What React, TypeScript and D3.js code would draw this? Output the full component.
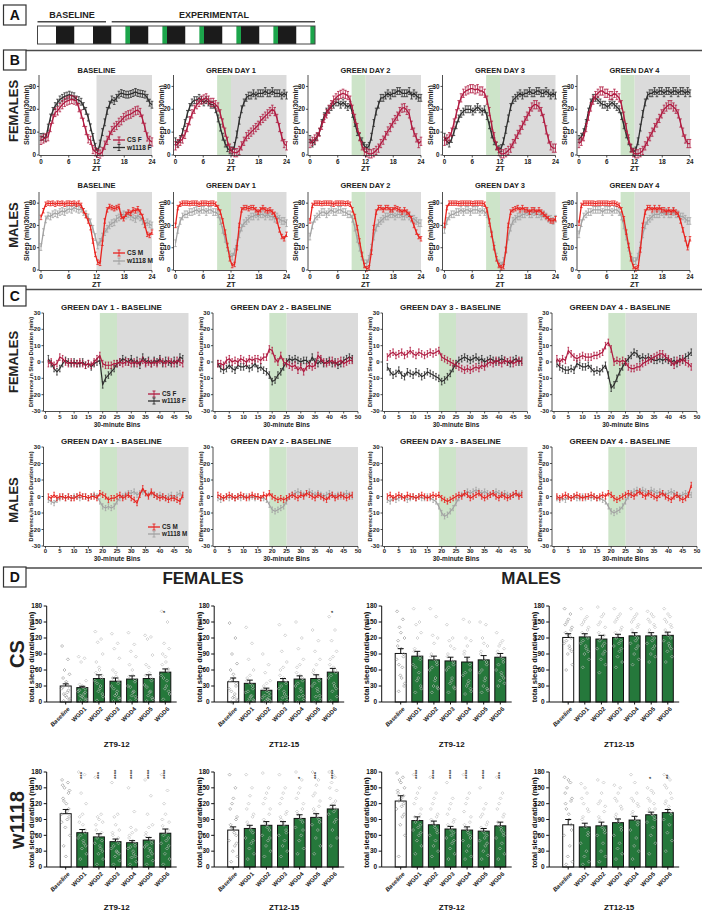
import React from "react";
import * as d3 from "d3";

const FONT = "'Liberation Sans', Arial, Helvetica, sans-serif";
const C_CSF = "#b01a40";
const C_WF = "#2e2e2e";
const C_CSM = "#e8231f";
const C_WM = "#a3a3a3";
const C_GRAY = "#dbdbdb";
const C_GREENBAND = "#cde4c9";
const C_BAR = "#25783b";
const C_STRIPGREEN = "#1ca54b";
const C_LINE = "#4a4a4a";

// ---------------- Panel A: light schedule ----------------
const STRIP_PHASE = ["L","D","L","D","L","G","D","L","G","D","L","G","D","L","G","D","L","G","D","L","G"];
const STRIP_HOURS = [12,12,12,12,9,3,12,9,3,12,9,3,12,9,3,12,9,3,12,9,3];

// ---------------- Panel B: sleep profiles (min/30min), 48 half-hour bins ----------------
const B_TITLES = ["BASELINE", "GREEN DAY 1", "GREEN DAY 2", "GREEN DAY 3", "GREEN DAY 4"];
const ZT_TICKS = [0, 6, 12, 18, 24];
const SLEEP_TICKS = [0, 10, 20, 30];

const CSF_BASE = [6.4,7,7.5,8,12,15.7,18.6,19.3,20.7,22,23,23.6,24,24.3,24,23.6,20.7,17.9,14.3,10.7,7.1,6.4,2.4,1.4,0.7,0.4,1.4,4.3,6.4,8.6,10.7,12.1,12.9,14.3,15,16.4,17.1,17.6,17.9,18.6,19.3,19.6,18.6,15.7,12.1,7.9,6.4,5.7];
const CSF_GD1 = [4,5,6,7,9,12,15,18,20,22,23,24,24.5,25,24,23,23,22,21,18,14,10,6,3,1.5,1,1,2,4,6,8,9,10,11,12,13,15,16,17,18,19,20,19,16,12,8,5,4];
const CSF_GD2 = [5,6,7,8,10,13,16,18,20,22,24,25,26,26.5,27,26.5,26,24,20,16,12,8,4,1.5,1,0.5,0.5,1,2,3,5,6.5,8.5,10.5,12,14,15.5,17,19,20.5,20.7,19.5,18,13,10,7.5,5,6];
const CSF_GD3 = [6,7,8,10,14,18,22,25,27,28,28.5,29,29,28.5,29,28,28,27,24,19,13,8,4,1.5,0.5,0.5,1,2,3,5,7,9,11,13,15,17,19,21,22,22,21,19,16,11,7,4,3,3];
const CSF_GD4 = [5,6,8,12,17,21,24,26,27,28,28,27,27,26,26,27,26,25,22,17,12,7,3,1,0.5,0.5,1,2,4,6,8,10,12,14,16,18,20,21,22,22,21,20,18,14,10,7,5,5];

const WF_BASE = [7.9,8,7.5,12,16.4,19.3,21.4,22.9,24.3,25,25.7,26,26.4,26,25.7,24.3,24,23.3,21.4,19.3,16.4,12.1,7.9,3.6,1.4,5,10,14.3,19.3,22,24.3,23.6,25,26.4,27.1,26.7,26.4,26.4,26.7,27.1,27.6,27.1,26.9,26.7,26.4,25,22.9,22];
const WF_GD1 = [6,5,7,10,14,18,21,23,24,24,25,24,23,24,23,22,22,20,16,12,8,5,3,2,2,4,9,15,20,23,25,26,26,27,26,27,27,27,28,27,27,28,27,27,27,26,27,26];
const WF_GD2 = [7,5,6,8,10,14,17,19,20,21,22,23,23,22,23,22,21,22,18,14,10,8,6,4,3,4,8,14,19,22,25,25,26,27,26,27,27,28,28,27,27,27,28,26,27,26,25,25];
const WF_GD3 = [8,6,5,7,10,13,16,18,19,20,20,20,19,20,21,20,19,20,17,13,9,6,4,2.5,3,6,11,16,21,24,25,26,27,26,27,27,28,27,27,28,28,27,27,28,27,26,27,26];
const WF_GD4 = [7,8,10,14,19,23,25,25,24,23,22,22,21,22,23,22,21,20,17,13,9,6,3,1.5,2,6,12,18,23,26,27,27,28,27,28,28,27,28,28,27,28,28,27,28,28,27,28,27];

const CSM_BASE = [23.6,26.6,29.5,30,29.8,30,29.5,30,29.8,30,29.5,30,30,29.8,30,29.5,30,29,26.6,24.4,22,19,13,7,3.5,3,12,22,27,28.5,28,27.5,28,28.5,24,23,25,26,25.5,27,26.5,27.5,26,24,20,16,15.5,17];
const CSM_GD1 = [20,28,29.5,30,30,30,29.8,30,30,30,29.5,30,30,30,29.8,30,30,29.5,28,26,22,17,11,5,2,2.5,10,20,27,28,28,27.5,28,28,27,26,27,28,27,26.5,27,26,25,22,18,15,14,16];
const CSM_GD2 = [22,29,30,30,30,29.8,30,30,30,30,29.5,30,30,30,30,29.8,30,29.5,27,24,19,13,7,2,0.5,1,8,19,26,28,28,27,28,28,27,27,28,27.5,27,26,27,26,25,23,20,17,15,14];
const CSM_GD3 = [20,28,30,30,30,30,29.8,30,30,30,30,30,29.8,30,30,30,30,29.5,27,22,16,10,5,2,1,1.5,9,20,26,27,27.5,28,27,28,27,27,26,27,27,26,27,26,25,24,23,22,22,23];
const CSM_GD4 = [21,29,30,30,30,30,30,29.8,30,30,30,30,30,29.8,30,30,29.5,29,27,23,17,11,5,1.5,0.5,1,9,20,26,28,28,27,28,27,28,27,27,26,27,26,27,26,25,22,18,14,10,14];

const WM_BASE = [10.3,17,22.7,24.4,24,25,25.5,25,26,26.5,26,27,27.5,27,28,27.5,27,27.5,26,25,23.6,21.4,18.5,14.8,11,12.6,15,17,18.5,20,21,21.4,23,23.6,24.4,25,24.4,25,24,23.6,22.9,24.4,23.6,22,20.7,21.4,20.5,20];
const WM_GD1 = [12,18,22,24,25,25,26,26,26.5,27,26,27,27,26,27,27,26,26,25,22,18,14,10,7,6,8,12,16,19,21,22,23,24,24,25,24,25,25,24,25,24,24,23,24,23,22,22,21];
const WM_GD2 = [15,20,23,24,25,26,26,25,26,27,26,26,27,27,26,26,25,25,23,19,14,10,6,3,3,5,10,15,19,21,22,23,24,24,25,25,24,25,25,24,24,25,24,23,23,22,21,21];
const WM_GD3 = [18,22,24,25,25,26,26,27,26,27,27,26,27,27,27,26,27,26,25,21,16,11,6,3,2,4,9,15,19,22,23,24,24,25,25,26,25,25,26,25,25,24,25,24,23,23,22,23];
const WM_GD4 = [16,21,24,25,26,26,27,27,27,27,26,27,27,27,26,27,27,26,24,20,15,10,6,4,4,6,11,16,20,22,23,24,25,25,25,26,25,26,25,25,26,25,25,24,24,23,22,22];

const SEM_B = [1.8, 1.5, 1.0, 1.5]; // CS F, w1118 F, CS M, w1118 M

// ---------------- Panel C: difference from baseline (min), bins 1-48 ----------------
const C_TITLES = ["GREEN DAY 1 - BASELINE", "GREEN DAY 2 - BASELINE", "GREEN DAY 3 - BASELINE", "GREEN DAY 4 - BASELINE"];
const BIN_TICKS = [0, 5, 10, 15, 20, 25, 30, 35, 40, 45, 50];
const DIFF_TICKS = [-30, -20, -10, 0, 10, 20, 30];

const DF_CS_GD1 = [-1,0,-2,-1,3,2,0,-1,0,-1,-1,0,-1,-2,-1,-2,0,2,4,-1,-2,-2,-2,-1,-1,0,-1,0,0,-1,0,-1,0,1,-1,0,-1,0,-1,1,0,-1,1,0,-1,1,0,-1];
const DF_CS_GD2 = [-1,-1,-2,1,2,0,1,0,2,1,0,2,1,2,2,1,3,3,8,7,2,0,4,0,-1,-2,-3,-2,-5,-3,-6,-3,-2,-3,-2,4,2,0,-1,0,1,-1,0,1,-1,0,1,1];
const DF_CS_GD3 = [3,5,6,4,5,6,4,5,7,5,4,6,5,4,5,6,5,6,7,3,2,1,0,-1,-2,-3,-4,-5,-4,-5,-4,-3,-4,-2,-3,-1,0,-1,1,0,-1,1,0,1,-1,0,1,0];
const DF_CS_GD4 = [2,0,2,1,7,5,3,2,3,4,3,3,3,4,4,5,6,10,12,8,0,1,0,1,0,-3,-4,-4,-3,-3,-1,0,1,2,3,4,5,5,3,2,0,-2,1,0,2,0,-1,-3];
const DF_W_GD1 = [2,-1,-4,-6,-4,-1,1,0,-1,0,-1,-1,0,-2,-1,-3,-1,0,1,-14,-10,-8,-6,-4,-1,0,2,1,0,2,-1,1,-2,3,0,1,-1,1,0,2,-1,1,0,-1,1,-1,3,2];
const DF_W_GD2 = [-1,-4,-5,-4,-2,-4,-5,-2,-3,-3,-2,-4,-3,-1,-4,-3,-5,-6,-8,-12,-11,-8,-6,-3,0,2,1,2,1,0,1,1,-1,3,0,-1,1,-1,0,1,-1,0,-2,-1,1,2,3,2];
const DF_W_GD3 = [-3,-6,-8,-7,-5,-8,-9,-6,-7,-8,-6,-7,-9,-8,-6,-7,-8,-9,-10,-12,-11,-9,-7,-4,-1,1,2,3,2,1,2,3,1,2,0,1,2,1,0,1,2,1,0,-1,1,2,0,1];
const DF_W_GD4 = [-1,-3,-4,-5,-5,-4,-5,-1,-2,-3,-3,-2,-4,-6,-5,-6,-4,-2,-8,-16,-14,-10,-6,-3,0,2,4,6,5,2,3,2,3,2,1,1,2,1,2,1,0,1,-1,2,1,3,4,6];

const DM_CS_GD1 = [0,-1,1,-1,0,0,-1,0,-1,-1,0,1,0,0,-1,0,0,-1,2,1,0,-2,-1,-1,0,1,-1,0,1,-1,-2,-4,1,5,2,0,3,1,0,-1,0,-1,-2,-1,-1,-2,-3,1];
const DM_CS_GD2 = [1,0,-1,0,1,0,-1,0,1,0,-1,0,1,0,0,-1,1,0,2,0,-1,-2,-1,-2,-1,0,1,0,-1,1,0,2,1,0,-1,1,0,-1,-2,0,1,-1,0,1,0,-1,0,1];
const DM_CS_GD3 = [0,1,-1,0,1,0,-1,1,0,0,-1,0,1,0,-1,0,1,0,1,-1,-2,-3,-2,-1,0,1,0,2,1,-1,0,1,2,0,-1,0,1,2,0,-1,1,0,-1,0,1,2,0,1];
const DM_CS_GD4 = [0,-1,0,1,0,-1,0,1,0,-1,0,0,1,0,-1,0,1,0,2,1,-1,-2,-1,0,1,2,1,0,2,3,1,0,2,1,0,-1,1,2,0,-1,-2,0,1,-1,-2,-1,1,7];
const DM_W_GD1 = [-2,-3,-4,-2,-1,0,-1,0,-1,0,0,-1,0,0,-1,0,1,0,-3,-6,-7,-6,-7,-6,-3,-1,0,1,2,2,3,1,2,3,2,1,2,1,0,1,0,-1,0,1,-1,1,2,0];
const DM_W_GD2 = [-1,-2,-1,0,-1,0,-1,0,-1,0,0,-1,0,-1,0,-1,-1,-2,-5,-8,-9,-8,-7,-6,-3,0,1,2,3,2,1,2,3,2,1,2,1,0,1,2,1,0,1,0,1,2,1,0];
const DM_W_GD3 = [-2,-3,-1,-2,-1,0,-1,-2,-1,0,-1,0,-1,-1,0,-1,-2,-3,-6,-10,-12,-11,-9,-7,-4,-1,1,2,3,2,3,4,3,2,3,2,1,2,3,2,1,2,1,0,1,2,1,2];
const DM_W_GD4 = [-1,-2,-1,-2,0,-1,0,-1,-1,0,-1,0,-1,0,-1,-1,-2,-3,-6,-9,-10,-9,-8,-6,-3,0,2,3,4,3,4,3,2,4,3,2,3,2,1,2,3,2,1,0,1,2,1,1];

const SEM_C = [2.0, 2.0, 1.6, 1.6];

// ---------------- Panel D: total sleep duration (min) ----------------
const D_CATS = ["Baseline", "WGD1", "WGD2", "WGD3", "WGD4", "WGD5", "WGD6"];
const D_TICKS = [0, 30, 60, 90, 120, 150, 180];
const D_TITLES = ["ZT9-12", "ZT12-15", "ZT9-12", "ZT12-15"];

const CSF_ZT9_MEAN = [30, 27, 44, 39, 43, 44, 56];
const CSF_ZT9_SEM = [4, 2.5, 7, 6, 6, 7, 6];
const CSF_ZT9_PTS = [
  [105,80,60,52,45,38,30,25,18,12,6,2,35,28,22,15,9,4],
  [85,82,75,40,33,28,25,20,15,10,5,2,30,22,18,12,8,3],
  [132,118,112,90,75,60,50,40,30,20,10,3,65,55,45,35,25,15],
  [128,110,100,82,60,48,40,30,20,12,5,2,55,45,35,25,15,8],
  [130,108,95,85,70,50,42,30,20,12,5,2,60,48,38,28,18,10],
  [125,122,118,88,70,55,45,32,20,12,5,2,65,50,40,28,18,8],
  [170,150,110,100,90,75,62,50,40,25,15,5,85,70,58,45,30,20],
];
const CSF_ZT12_MEAN = [38, 35, 22, 38, 43, 44, 56];
const CSF_ZT12_SEM = [7, 6, 4, 6, 6, 7, 7];
const CSF_ZT12_PTS = [
  [148,120,90,72,60,45,35,25,15,8,3,0,52,40,30,20,10,5],
  [140,110,80,60,45,35,25,18,12,6,2,0,50,40,30,20,10,4],
  [90,70,55,40,30,20,12,8,5,2,0,0,35,25,18,12,6,3],
  [145,125,95,75,60,45,35,25,15,8,3,0,65,50,40,30,20,10],
  [150,120,100,80,65,50,40,30,20,10,5,0,70,55,45,35,25,12],
  [135,115,95,80,60,50,40,30,20,10,5,0,70,55,45,35,25,12],
  [160,135,115,95,80,65,55,45,30,20,10,2,85,70,60,50,35,25],
];
const CSM_ZT9_MEAN = [91, 86, 79, 77, 75, 79, 84];
const CSM_ZT9_SEM = [9, 9, 7, 7, 9, 8, 7];
const CSM_ZT9_PTS = [
  [170,155,140,120,115,100,90,80,65,50,35,20,130,105,85,70,45,30],
  [175,150,145,130,100,90,80,70,55,40,25,18,120,95,85,65,45,30],
  [175,160,125,120,90,80,70,60,45,30,25,18,110,85,75,65,40,28],
  [145,120,115,100,90,80,70,60,45,35,25,18,105,85,75,65,40,28],
  [155,150,120,115,95,80,60,50,40,30,20,15,105,90,70,55,35,25],
  [150,145,120,105,95,80,70,55,45,30,22,18,110,90,75,60,40,25],
  [130,115,105,100,95,85,75,60,50,40,35,30,110,90,80,70,55,45],
];
const CSM_ZT12_MEAN = [121, 122, 118, 121, 124, 124, 125];
const CSM_ZT12_SEM = [7, 6, 7, 6, 6, 6, 6];
const CSM_ZT12_PTS = [
  [175,165,150,140,130,125,120,110,100,90,70,60,155,145,135,115,105,95],
  [175,160,150,140,130,125,120,110,100,90,80,65,155,145,135,115,105,95],
  [178,165,150,140,130,120,110,100,90,80,70,55,160,145,125,115,105,95],
  [175,165,155,140,130,125,115,105,95,85,75,65,160,150,135,120,110,100],
  [175,165,155,145,135,125,120,110,100,90,80,70,160,150,140,130,115,105],
  [170,160,150,140,130,125,120,110,100,90,85,75,165,155,145,135,115,105],
  [175,160,150,140,135,125,120,115,105,95,85,75,165,155,145,130,110,100],
];
const WF_ZT9_MEAN = [101, 65, 57, 48, 46, 51, 64];
const WF_ZT9_SEM = [8, 6, 6, 5, 4, 5, 8];
const WF_ZT9_PTS = [
  [165,160,150,145,130,120,110,100,90,75,60,40,20,155,140,125,105,95,85],
  [180,175,140,120,95,80,65,55,45,35,25,15,100,85,70,60,50,40],
  [170,100,95,85,70,60,50,45,35,25,15,5,90,80,65,55,40,30],
  [160,100,95,70,60,50,45,35,28,20,12,5,80,65,55,40,30,25],
  [150,105,75,70,60,50,40,35,25,18,10,5,65,55,45,38,30,20],
  [165,135,100,80,65,55,45,38,30,20,12,5,75,60,50,42,35,25],
  [175,145,120,85,78,65,55,45,35,25,15,5,100,90,70,60,50,40],
];
const WF_ZT12_MEAN = [70, 73, 79, 79, 92, 94, 110];
const WF_ZT12_SEM = [6, 6, 7, 7, 7, 7, 7];
const WF_ZT12_PTS = [
  [175,150,120,95,80,70,60,50,40,30,20,10,130,110,90,75,65,45],
  [175,150,120,100,85,75,65,55,45,35,25,15,135,110,95,80,70,50],
  [178,150,130,110,90,80,70,60,50,40,30,20,140,120,100,85,75,55],
  [175,150,130,105,95,85,70,60,50,40,30,20,140,120,100,90,80,65],
  [180,165,140,120,105,95,85,75,60,50,35,25,150,130,110,100,90,70],
  [180,165,140,125,110,100,90,80,70,55,40,25,155,135,115,105,95,85],
  [180,170,160,145,130,120,110,100,85,70,55,40,175,150,125,115,105,90],
];
const WM_ZT9_MEAN = [125, 88, 80, 72, 70, 68, 78];
const WM_ZT9_SEM = [10, 7, 7, 5, 6, 5, 7];
const WM_ZT9_PTS = [
  [178,170,165,150,140,130,120,110,95,80,60,20,160,145,135,125,115,100],
  [175,150,130,110,95,90,80,70,60,50,40,25,140,120,100,85,75,65],
  [170,140,120,100,90,80,70,60,50,40,30,20,130,110,95,85,75,65],
  [160,130,110,90,80,70,65,55,45,35,25,15,120,100,85,75,60,50],
  [175,140,120,95,80,70,60,50,40,30,20,15,130,105,85,75,65,55],
  [150,120,100,85,75,65,60,50,40,30,22,15,110,95,80,70,55,45],
  [170,140,120,100,85,75,65,55,45,35,25,15,130,110,95,80,70,60],
];
const WM_ZT12_MEAN = [80, 76, 78, 84, 89, 99, 103];
const WM_ZT12_SEM = [10, 7, 7, 7, 7, 5, 6];
const WM_ZT12_PTS = [
  [170,160,150,130,120,100,80,60,40,20,10,5,165,140,125,110,90,70],
  [158,140,120,105,90,75,60,45,30,20,10,5,150,130,110,95,80,65],
  [165,160,125,115,95,80,70,60,45,30,20,10,140,120,105,90,75,65],
  [155,150,125,110,95,85,75,60,45,35,25,15,140,130,115,100,90,70],
  [175,140,125,115,100,90,80,70,55,40,30,15,160,130,120,105,95,85],
  [150,140,125,110,105,100,95,85,75,60,45,25,145,130,120,110,100,90],
  [175,165,150,130,120,110,100,90,80,65,50,30,170,155,140,125,115,105],
];

const CSF_ZT9_STARS = ["", "", "", "", "", "", "*"];
const CSF_ZT12_STARS = ["", "", "", "", "", "", "*"];
const CSM_ZT9_STARS = ["", "", "", "", "", "", ""];
const CSM_ZT12_STARS = ["", "", "", "", "", "", ""];
const WF_ZT9_STARS = ["", "***", "***", "****", "****", "****", "****"];
const WF_ZT12_STARS = ["", "", "", "", "*", "***", "****"];
const WM_ZT9_STARS = ["", "****", "****", "****", "****", "****", "***"];
const WM_ZT12_STARS = ["", "", "", "", "", "*", "**"];

// ---------------- layout ----------------
const B_X0 = [41, 175.5, 310, 444.5, 579];
const B_W = 111;
const C_X0 = [45.5, 215, 384.5, 554];
const C_W = 143;
const D_X0 = [46.7, 214.2, 381.7, 549.2];
const JITTER = [-3.6, 2.2, -1.2, 3.8, -2.6, 0.6, 3.0, -4.2, 1.6, -0.4, 4.2, -2.0, 0.2, -3.0, 2.8, -1.8, 1.0, 3.4, -4.0];

type Series = { xs: number[]; values: number[]; sem: number; color: string };

function LinePlot(p: any) {
  const x = d3.scaleLinear().domain(p.xDomain).range([p.x0, p.x0 + p.w]);
  const y = d3.scaleLinear().domain(p.yDomain).range([p.bottom, p.top]);
  const line = d3.line<[number, number]>().x((d) => x(d[0])).y((d) => y(d[1]));
  const ax = p.x0 - 2;
  return (
    <g>
      <rect x={x(p.gray[0])} y={p.top} width={x(p.gray[1]) - x(p.gray[0])} height={p.bottom - p.top} fill={C_GRAY} />
      {p.green && (
        <rect x={x(p.green[0])} y={p.top} width={x(p.green[1]) - x(p.green[0])} height={p.bottom - p.top} fill={C_GREENBAND} />
      )}
      {p.series.map((s: Series, si: number) => (
        <g key={si}>
          {s.values.map((v, i) => {
            const cx = x(s.xs[i]);
            const y1 = y(v - s.sem);
            const y2 = y(v + s.sem);
            return (
              <g key={i} stroke={s.color} strokeWidth={0.8}>
                <line x1={cx} x2={cx} y1={y1} y2={y2} />
                {p.cap > 0 && <line x1={cx - p.cap} x2={cx + p.cap} y1={y1} y2={y1} />}
                {p.cap > 0 && <line x1={cx - p.cap} x2={cx + p.cap} y1={y2} y2={y2} />}
              </g>
            );
          })}
          <path d={line(s.values.map((v, i) => [s.xs[i], v] as [number, number])) || ""} fill="none" stroke={s.color} strokeWidth={p.lw} strokeLinejoin="round" />
        </g>
      ))}
      <line x1={ax} x2={ax} y1={p.top} y2={p.bottom} stroke="#222" strokeWidth={0.8} />
      <line x1={ax} x2={p.x0 + p.w} y1={p.bottom + 0.5} y2={p.bottom + 0.5} stroke="#222" strokeWidth={0.8} />
      {p.yTicks.map((t: number) => (
        <g key={"y" + t}>
          <line x1={ax - 2} x2={ax} y1={y(t)} y2={y(t)} stroke="#222" strokeWidth={0.8} />
          <text x={ax - 3} y={y(t)} dy="0.35em" textAnchor="end" fontSize={p.tickFont} fontWeight="bold" fill="#222">{t}</text>
        </g>
      ))}
      {p.xTicks.map((t: number) => (
        <g key={"x" + t}>
          <line x1={x(t)} x2={x(t)} y1={p.bottom + 0.5} y2={p.bottom + 2.5} stroke="#222" strokeWidth={0.8} />
          <text x={x(t)} y={p.tickY} textAnchor="middle" fontSize={p.tickFont} fontWeight="bold" fill="#222">{t}</text>
        </g>
      ))}
      <text x={p.x0 + p.titleDx} y={p.titleY} textAnchor="middle" fontSize={p.titleFont} fontWeight="bold" fill="#222">{p.title}</text>
      <text x={p.x0 + p.w / 2} y={p.xLabelY} textAnchor="middle" fontSize={p.labelFont} fontWeight="bold" fill="#222">{p.xLabel}</text>
      <text transform={`translate(${p.x0 + p.yLabelDx},${(p.top + p.bottom) / 2}) rotate(-90)`} textAnchor="middle" dy="0.35em" fontSize={p.yLabelFont} fontWeight="bold" fill="#222">{p.yLabel}</text>
      {p.legend && p.legend.labels.map((lab: string, i: number) => {
        const lx = p.legend.x;
        const ly = p.legend.ys[i];
        const col = p.legend.colors[i];
        return (
          <g key={"lg" + i}>
            <line x1={lx} x2={lx + 12} y1={ly} y2={ly} stroke={col} strokeWidth={1.3} />
            <line x1={lx + 6} x2={lx + 6} y1={ly - 3} y2={ly + 3} stroke={col} strokeWidth={0.9} />
            <line x1={lx + 4.5} x2={lx + 7.5} y1={ly - 3} y2={ly - 3} stroke={col} strokeWidth={0.9} />
            <line x1={lx + 4.5} x2={lx + 7.5} y1={ly + 3} y2={ly + 3} stroke={col} strokeWidth={0.9} />
            <text x={lx + 14} y={ly} dy="0.35em" fontSize={p.legendFont} fontWeight="bold" fill="#222">{lab}</text>
          </g>
        );
      })}
    </g>
  );
}

function BarPlot(p: any) {
  const y = d3.scaleLinear().domain([0, 180]).range([p.zero, p.top]);
  const x = d3.scaleBand().domain(D_CATS).range([p.ax + 10.7, p.ax + 10.7 + 7 * 16.6]).padding(0);
  const bw = 11;
  const cxOf = (c: string) => (x(c) as number) + x.bandwidth() / 2;
  return (
    <g>
      {D_CATS.map((c, i) => (
        <rect key={"b" + i} x={cxOf(c) - bw / 2} y={y(p.means[i])} width={bw} height={p.zero - y(p.means[i])} fill={i === 0 ? "#fff" : C_BAR} stroke="#111" strokeWidth={1} />
      ))}
      {D_CATS.map((c, i) =>
        p.pts[i].map((v: number, j: number) => {
          const px = cxOf(c) + JITTER[j % JITTER.length];
          const py = y(v);
          return <path key={"p" + i + "_" + j} d={`M${px},${py - 1.5}L${px + 1.5},${py}L${px},${py + 1.5}L${px - 1.5},${py}Z`} fill="none" stroke={i === 0 ? "#8c8c8c" : "#b8b8b8"} strokeWidth={0.6} />;
        })
      )}
      {D_CATS.map((c, i) => {
        const cx = cxOf(c);
        const yt = y(p.means[i] + p.sems[i]);
        return (
          <g key={"e" + i} stroke="#111" strokeWidth={1}>
            <line x1={cx} x2={cx} y1={y(p.means[i])} y2={yt} />
            <line x1={cx - 3} x2={cx + 3} y1={yt} y2={yt} />
          </g>
        );
      })}
      {D_CATS.map((c, i) =>
        p.stars[i] ? (
          <text key={"s" + i} transform={`translate(${cxOf(c)},${p.top + 7}) rotate(-90)`} dy="0.35em" fontSize={6} fontWeight="bold" fill="#333">{p.stars[i]}</text>
        ) : null
      )}
      <line x1={p.ax} x2={p.ax} y1={p.top} y2={p.zero} stroke="#111" strokeWidth={1} />
      <line x1={p.ax} x2={p.ax + 130} y1={p.zero} y2={p.zero} stroke="#111" strokeWidth={1} />
      {D_TICKS.map((t) => (
        <g key={"t" + t}>
          <line x1={p.ax - 3} x2={p.ax} y1={y(t)} y2={y(t)} stroke="#111" strokeWidth={1} />
          <text x={p.ax - 4.5} y={y(t)} dy="0.35em" textAnchor="end" fontSize={6.5} fontWeight="bold" fill="#111">{t}</text>
        </g>
      ))}
      {D_CATS.map((c, i) => (
        <g key={"c" + i}>
          <line x1={cxOf(c)} x2={cxOf(c)} y1={p.zero} y2={p.zero + 2.5} stroke="#111" strokeWidth={1} />
          <text transform={`translate(${cxOf(c) + 3},${p.zero + 6}) rotate(-45)`} textAnchor="end" dy="0.35em" fontSize={6} fontWeight="bold" fontStyle={i === 0 ? "italic" : "normal"} fill="#111">{c}</text>
        </g>
      ))}
      <text transform={`translate(${p.ax - 15},${(p.top + p.zero) / 2 + 3}) rotate(-90)`} textAnchor="middle" dy="0.35em" fontSize={7.6} fontWeight="bold" fill="#111">total sleep duration (min)</text>
      <text x={p.ax + 70} y={p.titleY} textAnchor="middle" fontSize={8} fontWeight="bold" fill="#111">{p.title}</text>
    </g>
  );
}

function PanelBox({ y, letter }: { y: number; letter: string }) {
  return (
    <g>
      <rect x={3.5} y={y} width={22.5} height={20} fill="#fff" stroke="#333" strokeWidth={1.2} />
      <text x={14.75} y={y + 10} dy="0.36em" textAnchor="middle" fontSize={14} fontWeight="bold" fill="#111">{letter}</text>
    </g>
  );
}

function RowLabel({ x, y, text, size }: { x: number; y: number; text: string; size: number }) {
  return (
    <text transform={`translate(${x},${y}) rotate(-90)`} textAnchor="middle" dy="0.35em" fontSize={size} fontWeight="bold" fill="#222">{text}</text>
  );
}

export default function App() {
  React.useEffect(() => {
    document.body.style.margin = "0";
  }, []);

  const totalH = d3.sum(STRIP_HOURS);
  const sx = d3.scaleLinear().domain([0, totalH]).range([37.5, 315]);
  const starts = Array.from(d3.cumsum(STRIP_HOURS)).map((c, i) => c - STRIP_HOURS[i]);
  const stripColor: Record<string, string> = { L: "#fff", D: "#1b1b1b", G: C_STRIPGREEN };

  const ztXs = d3.range(48).map((i) => (i * 24) / 47);
  const binXs = d3.range(1, 49);

  const bRows = [
    { top: 75, bottom: 155, titleY: 73, tickY: 163.5, xLabelY: 171, cs: [CSF_BASE, CSF_GD1, CSF_GD2, CSF_GD3, CSF_GD4], w: [WF_BASE, WF_GD1, WF_GD2, WF_GD3, WF_GD4], cc: C_CSF, wc: C_WF, semCs: SEM_B[0], semW: SEM_B[1], leg: ["CS F", "w1118 F"], legY: [140, 147.5], label: "FEMALES", rowY: 111 },
    { top: 192, bottom: 270, titleY: 188, tickY: 278.5, xLabelY: 287, cs: [CSM_BASE, CSM_GD1, CSM_GD2, CSM_GD3, CSM_GD4], w: [WM_BASE, WM_GD1, WM_GD2, WM_GD3, WM_GD4], cc: C_CSM, wc: C_WM, semCs: SEM_B[2], semW: SEM_B[3], leg: ["CS M", "w1118 M"], legY: [253, 261], label: "MALES", rowY: 225 },
  ];
  const cRows = [
    { top: 313, bottom: 411, titleY: 309.5, tickY: 419, xLabelY: 426.5, cs: [DF_CS_GD1, DF_CS_GD2, DF_CS_GD3, DF_CS_GD4], w: [DF_W_GD1, DF_W_GD2, DF_W_GD3, DF_W_GD4], cc: C_CSF, wc: C_WF, semCs: SEM_C[0], semW: SEM_C[1], leg: ["CS F", "w1118 F"], legY: [394, 401], label: "FEMALES", rowY: 362 },
    { top: 447, bottom: 546, titleY: 443.5, tickY: 553, xLabelY: 561, cs: [DM_CS_GD1, DM_CS_GD2, DM_CS_GD3, DM_CS_GD4], w: [DM_W_GD1, DM_W_GD2, DM_W_GD3, DM_W_GD4], cc: C_CSM, wc: C_WM, semCs: SEM_C[2], semW: SEM_C[3], leg: ["CS M", "w1118 M"], legY: [527, 534], label: "MALES", rowY: 500 },
  ];
  const dRows = [
    { top: 606, zero: 702, titleY: 747, label: "CS", rowY: 654, plots: [
      { means: CSF_ZT9_MEAN, sems: CSF_ZT9_SEM, pts: CSF_ZT9_PTS, stars: CSF_ZT9_STARS },
      { means: CSF_ZT12_MEAN, sems: CSF_ZT12_SEM, pts: CSF_ZT12_PTS, stars: CSF_ZT12_STARS },
      { means: CSM_ZT9_MEAN, sems: CSM_ZT9_SEM, pts: CSM_ZT9_PTS, stars: CSM_ZT9_STARS },
      { means: CSM_ZT12_MEAN, sems: CSM_ZT12_SEM, pts: CSM_ZT12_PTS, stars: CSM_ZT12_STARS },
    ] },
    { top: 772, zero: 867, titleY: 910, label: "w1118", rowY: 820, plots: [
      { means: WF_ZT9_MEAN, sems: WF_ZT9_SEM, pts: WF_ZT9_PTS, stars: WF_ZT9_STARS },
      { means: WF_ZT12_MEAN, sems: WF_ZT12_SEM, pts: WF_ZT12_PTS, stars: WF_ZT12_STARS },
      { means: WM_ZT9_MEAN, sems: WM_ZT9_SEM, pts: WM_ZT9_PTS, stars: WM_ZT9_STARS },
      { means: WM_ZT12_MEAN, sems: WM_ZT12_SEM, pts: WM_ZT12_PTS, stars: WM_ZT12_STARS },
    ] },
  ];

  return (
    <svg width={702} height={917} style={{ position: "absolute", left: 0, top: 0, display: "block", background: "#fff" }} fontFamily={FONT}>
      <rect x={0} y={0} width={702} height={917} fill="#fff" />
      {/* Panel A */}
      <PanelBox y={5} letter="A" />
      <text x={72} y={17.5} textAnchor="middle" fontSize={9} fontWeight="bold" fill="#222">BASELINE</text>
      <text x={214} y={17.5} textAnchor="middle" fontSize={9} fontWeight="bold" fill="#222">EXPERIMENTAL</text>
      <line x1={37.5} x2={106} y1={21.7} y2={21.7} stroke={C_LINE} strokeWidth={1.5} />
      <line x1={111.7} x2={315} y1={21.7} y2={21.7} stroke={C_LINE} strokeWidth={1.5} />
      {STRIP_PHASE.map((ph, i) => (
        <rect key={"st" + i} x={sx(starts[i])} y={26} width={sx(starts[i] + STRIP_HOURS[i]) - sx(starts[i])} height={18} fill={stripColor[ph]} />
      ))}
      <rect x={37.5} y={26} width={277.5} height={18} fill="none" stroke="#444" strokeWidth={1} />

      {/* Separators */}
      <line x1={26} x2={702} y1={50.5} y2={50.5} stroke={C_LINE} strokeWidth={1.5} />
      <PanelBox y={50} letter="B" />
      <line x1={26} x2={702} y1={289.5} y2={289.5} stroke={C_LINE} strokeWidth={1.5} />
      <PanelBox y={286} letter="C" />
      <line x1={26} x2={702} y1={568} y2={568} stroke={C_LINE} strokeWidth={1.5} />
      <PanelBox y={567} letter="D" />

      {/* Panel B */}
      {bRows.map((r, ri) => (
        <g key={"br" + ri}>
          <RowLabel x={13} y={r.rowY} text={r.label} size={13} />
          {B_X0.map((x0, k) => (
            <LinePlot key={k} x0={x0} w={B_W} top={r.top} bottom={r.bottom} xDomain={[0, 24]} yDomain={[0, 35]}
              xTicks={ZT_TICKS} yTicks={SLEEP_TICKS} gray={[12, 24]} green={k > 0 ? [9, 12] : null}
              series={[
                { xs: ztXs, values: r.w[k], sem: r.semW, color: r.wc },
                { xs: ztXs, values: r.cs[k], sem: r.semCs, color: r.cc },
              ]}
              cap={1.3} lw={1.3} title={B_TITLES[k]} titleY={r.titleY} titleDx={B_W / 2} titleFont={7.5}
              xLabel="ZT" xLabelY={r.xLabelY} labelFont={7.5} tickY={r.tickY} tickFont={6.3}
              yLabel="Sleep (min/30min)" yLabelDx={-14} yLabelFont={7}
              legend={k === 0 ? { x: 113, ys: r.legY, labels: r.leg, colors: [r.cc, r.wc] } : null} legendFont={6.5}
            />
          ))}
        </g>
      ))}

      {/* Panel C */}
      {cRows.map((r, ri) => (
        <g key={"cr" + ri}>
          <RowLabel x={13} y={r.rowY} text={r.label} size={13} />
          {C_X0.map((x0, k) => (
            <LinePlot key={k} x0={x0} w={C_W} top={r.top} bottom={r.bottom} xDomain={[0, 50]} yDomain={[-30, 30]}
              xTicks={BIN_TICKS} yTicks={DIFF_TICKS} gray={[25, 50]} green={[19, 25]}
              series={[
                { xs: binXs, values: r.w[k], sem: r.semW, color: r.wc },
                { xs: binXs, values: r.cs[k], sem: r.semCs, color: r.cc },
              ]}
              cap={0.8} lw={1.2} title={C_TITLES[k]} titleY={r.titleY} titleDx={66} titleFont={8}
              xLabel="30-minute Bins" xLabelY={r.xLabelY} labelFont={6.5} tickY={r.tickY} tickFont={6}
              yLabel="Difference in Sleep Duration (min)" yLabelDx={-14} yLabelFont={5.6}
              legend={k === 0 ? { x: 148, ys: r.legY, labels: r.leg, colors: [r.cc, r.wc] } : null} legendFont={6.3}
            />
          ))}
        </g>
      ))}

      {/* Panel D */}
      <text x={203} y={584} textAnchor="middle" fontSize={17} fontWeight="bold" fill="#222">FEMALES</text>
      <text x={531} y={584} textAnchor="middle" fontSize={17} fontWeight="bold" fill="#222">MALES</text>
      {dRows.map((r, ri) => (
        <g key={"dr" + ri}>
          <RowLabel x={17} y={r.rowY} text={r.label} size={20} />
          {r.plots.map((pl, k) => (
            <BarPlot key={k} ax={D_X0[k]} top={r.top} zero={r.zero} means={pl.means} sems={pl.sems} pts={pl.pts} stars={pl.stars} title={D_TITLES[k]} titleY={r.titleY} />
          ))}
        </g>
      ))}
    </svg>
  );
}
